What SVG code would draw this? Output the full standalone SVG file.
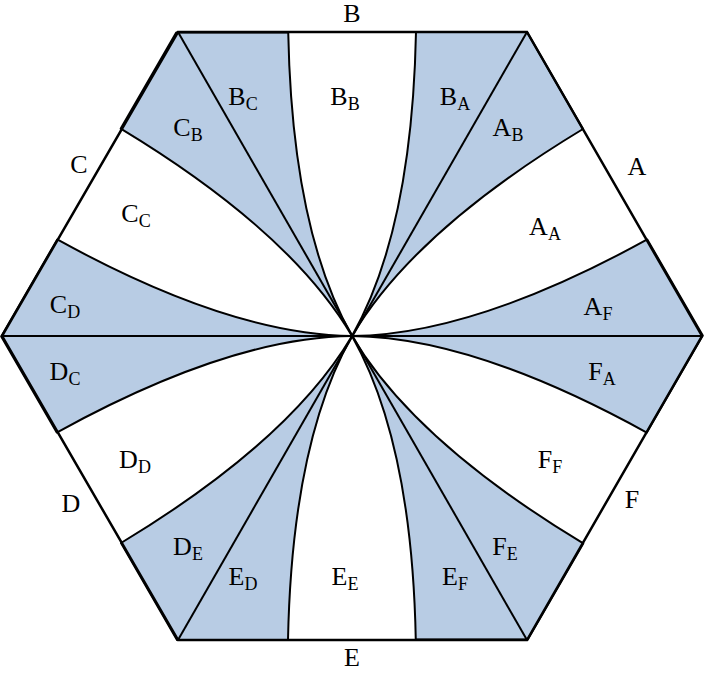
<svg xmlns="http://www.w3.org/2000/svg" width="705" height="674" viewBox="0 0 705 674">
<style>
.b{fill:#b8cce4;stroke:#000;stroke-width:2;stroke-linejoin:round}
.l{stroke:#000;stroke-width:2;fill:none}
text{font-family:"Liberation Serif",serif;font-size:26px;fill:#000;text-anchor:middle}
.s{font-size:18px}
</style>
<rect width="705" height="674" fill="#fff"/>
<defs>
<path id="sec" class="b" d="M0,0 Q60,-106 64,-304 L175,-304 L231,-207 Q62,-105 0,0 Z"/>
</defs>
<g id="sectors" transform="translate(352,336)">
<use href="#sec"/>
<use href="#sec" transform="rotate(60)"/>
<use href="#sec" transform="rotate(120)"/>
<use href="#sec" transform="rotate(180)"/>
<use href="#sec" transform="rotate(240)"/>
<use href="#sec" transform="rotate(300)"/>
</g>
<g id="connectors" class="l">
<line x1="178" y1="32" x2="527" y2="640"/>
<line x1="527" y1="32" x2="178" y2="640"/>
<line x1="2" y1="336" x2="702" y2="336"/>
<polygon points="178,32 527,32 702,336 527,640 178,640 2,336" stroke-width="2.5"/>
</g>
<g id="outer">
<text x="352" y="22">B</text>
<text x="637" y="175">A</text>
<text x="632" y="508">F</text>
<text x="352" y="666">E</text>
<text x="71" y="512">D</text>
<text x="79" y="173">C</text>
</g>
<g id="inner">
<text x="243" y="105">B<tspan class="s" dy="5">C</tspan></text>
<text x="188" y="136">C<tspan class="s" dy="5">B</tspan></text>
<text x="345" y="105">B<tspan class="s" dy="5">B</tspan></text>
<text x="455" y="105">B<tspan class="s" dy="5">A</tspan></text>
<text x="508" y="136">A<tspan class="s" dy="5">B</tspan></text>
<text x="136" y="222">C<tspan class="s" dy="5">C</tspan></text>
<text x="545" y="235">A<tspan class="s" dy="5">A</tspan></text>
<text x="65" y="313">C<tspan class="s" dy="5">D</tspan></text>
<text x="598" y="315">A<tspan class="s" dy="5">F</tspan></text>
<text x="65" y="380">D<tspan class="s" dy="5">C</tspan></text>
<text x="602" y="380">F<tspan class="s" dy="5">A</tspan></text>
<text x="135" y="468">D<tspan class="s" dy="5">D</tspan></text>
<text x="550" y="468">F<tspan class="s" dy="5">F</tspan></text>
<text x="188" y="555">D<tspan class="s" dy="5">E</tspan></text>
<text x="505" y="555">F<tspan class="s" dy="5">E</tspan></text>
<text x="243" y="585">E<tspan class="s" dy="5">D</tspan></text>
<text x="345" y="585">E<tspan class="s" dy="5">E</tspan></text>
<text x="455" y="585">E<tspan class="s" dy="5">F</tspan></text>
</g>
</svg>
